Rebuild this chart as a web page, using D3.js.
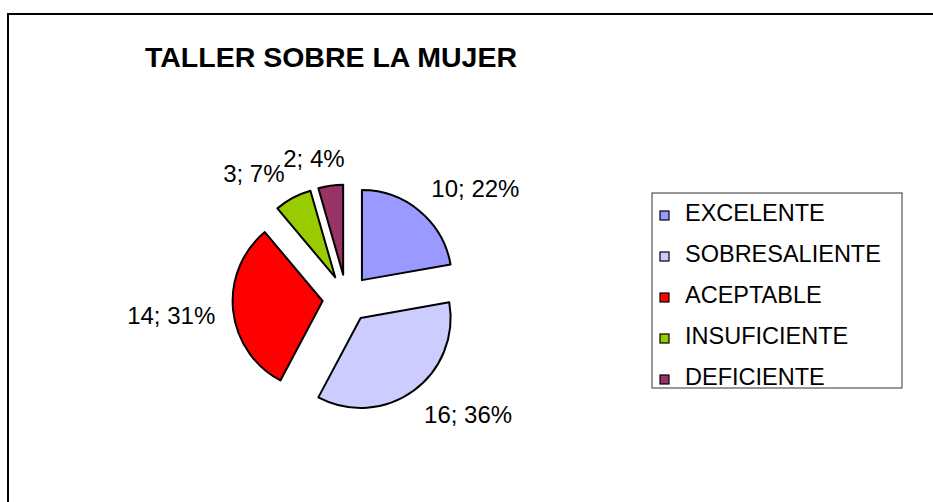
<!DOCTYPE html>
<html>
<head>
<meta charset="utf-8">
<script src="https://cdn.jsdelivr.net/npm/d3@7"></script>
<style>
  body { margin: 0; background: #fff; }
  svg { display: block; }
</style>
</head>
<body>
<div id="chart"></div>
<script>
const categories = ["EXCELENTE", "SOBRESALIENTE", "ACEPTABLE", "INSUFICIENTE", "DEFICIENTE"];
const values = [10, 16, 14, 3, 2];
const percentLabels = ["22%", "36%", "31%", "7%", "4%"];
const colors = ["#9999FF", "#CCCCFF", "#FF0000", "#99CC00", "#993366"];

const width = 933;
const height = 502;
const font = "'Liberation Sans', Arial, sans-serif";

const svg = d3.select("#chart").append("svg")
  .attr("width", width)
  .attr("height", height)
  .attr("font-family", font);

// outer chart frame (runs off the right and bottom edge)
svg.append("rect")
  .attr("x", 8).attr("y", 14)
  .attr("width", 940).attr("height", 500)
  .attr("fill", "#fff")
  .attr("stroke", "#000")
  .attr("stroke-width", 2);

svg.append("text")
  .attr("x", 331).attr("y", 67)
  .attr("text-anchor", "middle")
  .attr("font-size", 28.5)
  .attr("font-weight", "bold")
  .text("TALLER SOBRE LA MUJER");

const cx = 346.5, cy = 298.5;
const radius = 90;
const explode = 24;
const labelRadius = 132;
const labelSize = 24;

const pie = d3.pie().sort(null).value((d) => d)(values);
const arc = d3.arc().innerRadius(0).outerRadius(radius);

const g = svg.append("g").attr("transform", `translate(${cx},${cy})`);

const mid = (d) => (d.startAngle + d.endAngle) / 2;

g.selectAll("path")
  .data(pie)
  .join("path")
  .attr("d", arc)
  .attr("transform", (d) => {
    const a = mid(d);
    return `translate(${explode * Math.sin(a)},${-explode * Math.cos(a)})`;
  })
  .attr("fill", (d, i) => colors[i])
  .attr("stroke", "#000")
  .attr("stroke-width", 2)
  .attr("stroke-linejoin", "round");

// data labels "value; percent" placed outside, pushed away from the pie
const labels = g.selectAll("text.lbl")
  .data(pie)
  .join("text")
  .attr("class", "lbl")
  .attr("font-size", labelSize)
  .attr("text-anchor", "middle")
  .text((d, i) => `${d.data}; ${percentLabels[i]}`);

labels.each(function (d) {
  const a = mid(d);
  const s = Math.sin(a), c = -Math.cos(a);
  const w = this.getComputedTextLength();
  const h = 18;
  const kx = Math.sign(s) * Math.min(1, Math.abs(s) / 0.3);
  const ky = Math.sign(c) * Math.min(1, Math.abs(c) / 0.3);
  const x = labelRadius * s + kx * w / 2;
  const y = labelRadius * c + ky * h / 2;
  d3.select(this).attr("x", x).attr("y", y + labelSize * 0.36);
});

// legend
const legend = svg.append("g");
legend.append("rect")
  .attr("x", 652).attr("y", 193)
  .attr("width", 250).attr("height", 195)
  .attr("fill", "#fff")
  .attr("stroke", "#333")
  .attr("stroke-width", 1);

const rowY = d3.scalePoint().domain(categories).range([221, 385]).padding(0);

const items = legend.selectAll("g.item")
  .data(categories)
  .join("g")
  .attr("class", "item")
  .attr("transform", (d) => `translate(0,${rowY(d)})`);

items.append("rect")
  .attr("x", 660).attr("y", -10)
  .attr("width", 9).attr("height", 9)
  .attr("fill", (d, i) => colors[i])
  .attr("stroke", "#000")
  .attr("stroke-width", 1.2);

items.append("text")
  .attr("x", 685).attr("y", 0)
  .attr("font-size", 23.5)
  .text((d) => d);
</script>
</body>
</html>
